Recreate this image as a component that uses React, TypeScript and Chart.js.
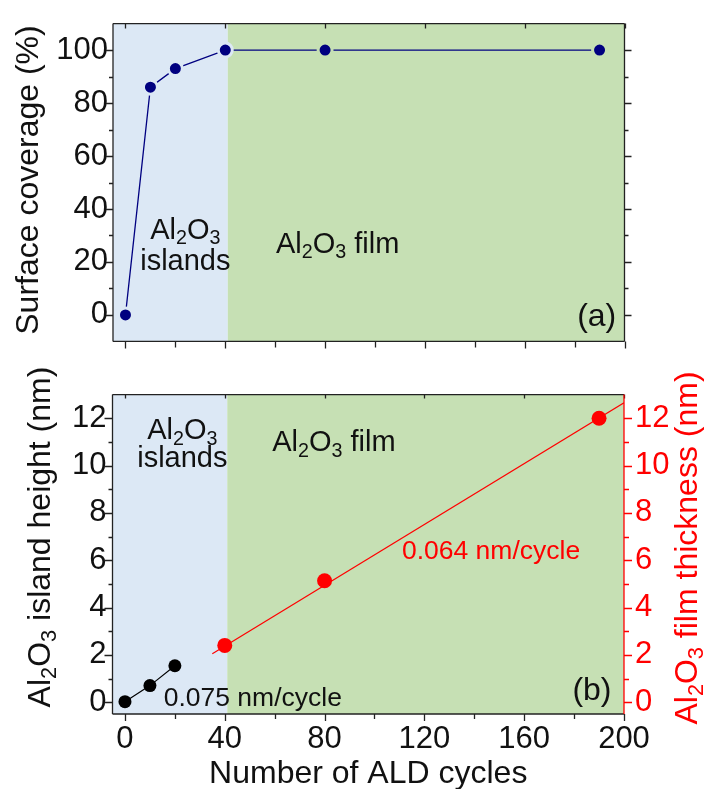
import React, { useEffect, useRef } from "react";
import { Chart, registerables } from "chart.js";

Chart.register(...registerables);

// ---------- data ----------
const coverageCycles = [0, 10, 20, 40, 80, 190];
const coverageValues = [0, 86, 93, 100, 100, 100];

const islandCycles = [0, 10, 20];
const islandHeights = [0.02, 0.7, 1.54];

const filmCycles = [40, 80, 190];
const filmThickness = [2.4, 5.13, 12.0];

const filmFitCycles = [35, 200];
const filmFitValues = [2.05, 12.65];

const xMajorTicks = [0, 40, 80, 120, 160, 200];
const xMinorTicks = [20, 60, 100, 140, 180];
const coverageMajorTicks = [0, 20, 40, 60, 80, 100];
const coverageMinorTicks = [10, 30, 50, 70, 90];
const heightMajorTicks = [0, 2, 4, 6, 8, 10, 12];
const heightMinorTicks = [1, 3, 5, 7, 9, 11];

const islandRegion = [-5, 41];
const filmRegion = [41, 200];

// ---------- styling ----------
const FAMILY = '"Liberation Sans", Arial, Helvetica, sans-serif';
const TICK_SIZE = 31;
const TITLE_SIZE = 32;
const NOTE_SIZE = 29;
const RATE_SIZE = 26.5;
const SUB = 0.68;
const BLUE_BG = "#dce8f5";
const GREEN_BG = "#c6e0b4";
const NAVY = "#000080";
const RED = "#ff0000";

type Seg = { t: string; sub?: boolean };
const AL2O3: Seg[] = [{ t: "Al" }, { t: "2", sub: true }, { t: "O" }, { t: "3", sub: true }];

function drawRich(
  ctx: CanvasRenderingContext2D,
  segs: Seg[],
  x: number,
  y: number,
  size: number,
  color: string,
  align: "left" | "center" | "right",
  rotate = false
) {
  ctx.save();
  ctx.fillStyle = color;
  ctx.textBaseline = "alphabetic";
  ctx.textAlign = "left";
  let w = 0;
  const widths: number[] = [];
  for (const s of segs) {
    ctx.font = `${s.sub ? size * SUB : size}px ${FAMILY}`;
    const m = ctx.measureText(s.t).width;
    widths.push(m);
    w += m;
  }
  if (rotate) {
    ctx.translate(x, y);
    ctx.rotate(-Math.PI / 2);
    x = 0;
    y = 0;
  }
  let cx = align === "center" ? x - w / 2 : align === "right" ? x - w : x;
  segs.forEach((s, i) => {
    ctx.font = `${s.sub ? size * SUB : size}px ${FAMILY}`;
    ctx.fillText(s.t, cx, s.sub ? y + size * 0.2 : y);
    cx += widths[i];
  });
  ctx.restore();
}

type TickSpec = {
  axis: string;
  side: "left" | "right" | "top" | "bottom";
  values: number[];
  len: number;
  color: string;
};

function framePlugin(specs: TickSpec[], borders: { side: string; color: string }[]) {
  return {
    id: "frame",
    afterDraw(chart: any) {
      const { ctx, chartArea: a } = chart;
      ctx.save();
      ctx.lineWidth = 1.3;
      for (const sp of specs) {
        const sc = chart.scales[sp.axis];
        ctx.strokeStyle = sp.color;
        ctx.beginPath();
        for (const v of sp.values) {
          const p = Math.round(sc.getPixelForValue(v)) + 0.5;
          if (sp.side === "left") {
            ctx.moveTo(a.left, p);
            ctx.lineTo(a.left - sp.len, p);
          } else if (sp.side === "right") {
            ctx.moveTo(a.right, p);
            ctx.lineTo(a.right + sp.len, p);
          } else if (sp.side === "bottom") {
            ctx.moveTo(p, a.bottom);
            ctx.lineTo(p, a.bottom + sp.len);
          } else {
            ctx.moveTo(p, a.top);
            ctx.lineTo(p, a.top - sp.len);
          }
        }
        ctx.stroke();
      }
      for (const b of borders) {
        ctx.strokeStyle = b.color;
        ctx.beginPath();
        if (b.side === "left") {
          ctx.moveTo(a.left, a.top);
          ctx.lineTo(a.left, a.bottom);
        } else if (b.side === "right") {
          ctx.moveTo(a.right, a.top);
          ctx.lineTo(a.right, a.bottom);
        } else if (b.side === "top") {
          ctx.moveTo(a.left, a.top);
          ctx.lineTo(a.right, a.top);
        } else {
          ctx.moveTo(a.left, a.bottom);
          ctx.lineTo(a.right, a.bottom);
        }
        ctx.stroke();
      }
      ctx.restore();
    },
  };
}

const bandsPlugin = {
  id: "bands",
  beforeDatasetsDraw(chart: any) {
    const { ctx, chartArea: a, scales } = chart;
    const x = scales.x;
    ctx.save();
    ctx.fillStyle = BLUE_BG;
    const x0 = x.getPixelForValue(islandRegion[0]);
    const x1 = x.getPixelForValue(islandRegion[1]);
    ctx.fillRect(x0, a.top, x1 - x0, a.bottom - a.top);
    ctx.fillStyle = GREEN_BG;
    const x2 = x.getPixelForValue(filmRegion[0]);
    const x3 = x.getPixelForValue(filmRegion[1]);
    ctx.fillRect(x2, a.top, x3 - x2, a.bottom - a.top);
    ctx.restore();
  },
};

const bandColorAt = (ctx: any) => {
  const raw = ctx.raw;
  return raw && raw.x < islandRegion[1] ? BLUE_BG : GREEN_BG;
};

const gridOff = { display: false, drawTicks: false };
const borderOff = { display: false };

export default function App() {
  const topRef = useRef<HTMLCanvasElement | null>(null);
  const botRef = useRef<HTMLCanvasElement | null>(null);

  useEffect(() => {
    if (!topRef.current || !botRef.current) return;

    const topText = {
      id: "topText",
      afterDraw(chart: any) {
        const { ctx, scales } = chart;
        const X = (v: number) => scales.x.getPixelForValue(v);
        const Y = (v: number) => scales.y.getPixelForValue(v);
        drawRich(ctx, AL2O3, X(24), Y(28.8), NOTE_SIZE, "#111", "center");
        drawRich(ctx, [{ t: "islands" }], X(24), Y(17.1), NOTE_SIZE, "#111", "center");
        drawRich(ctx, [...AL2O3, { t: " film" }], X(60.3), Y(23.5), NOTE_SIZE, "#111", "left");
        drawRich(ctx, [{ t: "(a)" }], X(196.7), Y(-4), TITLE_SIZE, "#111", "right");
        drawRich(ctx, [{ t: "Surface coverage (%)" }], 38, 180, TITLE_SIZE, "#111", "center", true);
      },
    };

    const top = new Chart(topRef.current, {
      type: "line",
      data: {
        datasets: [
          {
            data: coverageCycles.map((c, i) => ({ x: c, y: coverageValues[i] })),
            borderColor: NAVY,
            backgroundColor: NAVY,
            pointBackgroundColor: NAVY,
            pointBorderColor: bandColorAt,
            pointRadius: 7,
            pointBorderWidth: 3,
            borderWidth: 1.3,
          },
        ],
      },
      options: {
        animation: false,
        responsive: false,
        maintainAspectRatio: false,
        devicePixelRatio: 1,
        layout: { padding: { top: 14, right: 89.5, left: 0, bottom: 0 } },
        plugins: { legend: { display: false }, tooltip: { enabled: false } },
        scales: {
          x: {
            type: "linear",
            min: -5,
            max: 200,
            ticks: { display: false },
            grid: gridOff,
            border: borderOff,
            afterFit: (s: any) => {
              s.height = 11;
            },
          },
          y: {
            type: "linear",
            min: -10,
            max: 110,
            afterBuildTicks: (s: any) => {
              s.ticks = coverageMajorTicks.map((v) => ({ value: v }));
            },
            ticks: {
              autoSkip: false,
              padding: 5,
              color: "#111",
              font: { family: FAMILY, size: TICK_SIZE },
            },
            grid: gridOff,
            border: borderOff,
            afterFit: (s: any) => {
              s.width = 113;
            },
          },
        },
      } as any,
      plugins: [
        bandsPlugin,
        framePlugin(
          [
            { axis: "y", side: "left", values: coverageMajorTicks, len: 7, color: "#222" },
            { axis: "y", side: "left", values: coverageMinorTicks, len: 4, color: "#222" },
            { axis: "y", side: "right", values: coverageMajorTicks, len: 7, color: "#222" },
            { axis: "y", side: "right", values: coverageMinorTicks, len: 4, color: "#222" },
            { axis: "x", side: "bottom", values: xMajorTicks, len: 7, color: "#222" },
            { axis: "x", side: "bottom", values: xMinorTicks, len: 6, color: "#222" },
            { axis: "x", side: "top", values: xMajorTicks, len: -5, color: "#222" },
          ],
          [
            { side: "left", color: "#222" },
            { side: "right", color: "#222" },
            { side: "top", color: "#222" },
            { side: "bottom", color: "#222" },
          ]
        ),
        topText,
      ],
    });

    const botText = {
      id: "botText",
      afterDraw(chart: any) {
        const { ctx, scales } = chart;
        const X = (v: number) => scales.x.getPixelForValue(v);
        const Y = (v: number) => scales.y.getPixelForValue(v);
        drawRich(ctx, AL2O3, X(23), Y(11.13), NOTE_SIZE, "#111", "center");
        drawRich(ctx, [{ t: "islands" }], X(23), Y(9.94), NOTE_SIZE, "#111", "center");
        drawRich(ctx, [...AL2O3, { t: " film" }], X(59), Y(10.6), NOTE_SIZE, "#111", "left");
        drawRich(ctx, [{ t: "0.064 nm/cycle" }], X(146.7), Y(6.07), RATE_SIZE, RED, "center");
        drawRich(ctx, [{ t: "0.075 nm/cycle" }], X(15.5), Y(-0.15), RATE_SIZE, "#111", "left");
        drawRich(ctx, [{ t: "(b)" }], X(195), Y(0.1), TITLE_SIZE, "#111", "right");
        drawRich(ctx, [...AL2O3, { t: " island height (nm)" }], 50, 537 - 365, TITLE_SIZE, "#111", "center", true);
        drawRich(ctx, [...AL2O3, { t: " film thickness (nm)" }], 697, 548 - 365, TITLE_SIZE, RED, "center", true);
        drawRich(ctx, [{ t: "Number of ALD cycles" }], (chart.chartArea.left + chart.chartArea.right) / 2, 783 - 365, TITLE_SIZE, "#111", "center");
      },
    };

    const bot = new Chart(botRef.current, {
      type: "line",
      data: {
        datasets: [
          {
            data: islandCycles.map((c, i) => ({ x: c, y: islandHeights[i] })),
            yAxisID: "y",
            borderColor: "#000",
            backgroundColor: "#000",
            pointBackgroundColor: "#000",
            pointBorderColor: "#000",
            pointRadius: 6.5,
            pointBorderWidth: 0,
            borderWidth: 1.2,
          },
          {
            data: filmFitCycles.map((c, i) => ({ x: c, y: filmFitValues[i] })),
            yAxisID: "y2",
            borderColor: RED,
            pointRadius: 0,
            borderWidth: 1.2,
          },
          {
            data: filmCycles.map((c, i) => ({ x: c, y: filmThickness[i] })),
            yAxisID: "y2",
            showLine: false,
            borderColor: RED,
            backgroundColor: RED,
            pointBackgroundColor: RED,
            pointBorderColor: RED,
            pointRadius: 7.5,
            pointBorderWidth: 0,
          },
        ],
      },
      options: {
        animation: false,
        responsive: false,
        maintainAspectRatio: false,
        devicePixelRatio: 1,
        layout: { padding: { top: 10, right: 0, left: 0, bottom: 0 } },
        plugins: { legend: { display: false }, tooltip: { enabled: false } },
        scales: {
          x: {
            type: "linear",
            min: -5,
            max: 200,
            afterBuildTicks: (s: any) => {
              s.ticks = xMajorTicks.map((v) => ({ value: v }));
            },
            ticks: {
              autoSkip: false,
              maxRotation: 0,
              padding: 7,
              color: "#111",
              font: { family: FAMILY, size: TICK_SIZE },
            },
            grid: gridOff,
            border: borderOff,
            afterFit: (s: any) => {
              s.height = 75;
            },
          },
          y: {
            type: "linear",
            position: "left",
            min: -0.5,
            max: 13,
            afterBuildTicks: (s: any) => {
              s.ticks = heightMajorTicks.map((v) => ({ value: v }));
            },
            ticks: {
              autoSkip: false,
              padding: 6,
              color: "#111",
              font: { family: FAMILY, size: TICK_SIZE },
            },
            grid: gridOff,
            border: borderOff,
            afterFit: (s: any) => {
              s.width = 112.5;
            },
          },
          y2: {
            type: "linear",
            position: "right",
            min: -0.5,
            max: 13,
            afterBuildTicks: (s: any) => {
              s.ticks = heightMajorTicks.map((v) => ({ value: v }));
            },
            ticks: {
              autoSkip: false,
              padding: 11,
              color: RED,
              font: { family: FAMILY, size: TICK_SIZE },
            },
            grid: gridOff,
            border: borderOff,
            afterFit: (s: any) => {
              s.width = 90;
            },
          },
        },
      } as any,
      plugins: [
        bandsPlugin,
        framePlugin(
          [
            { axis: "y", side: "left", values: heightMajorTicks, len: 8, color: "#222" },
            { axis: "y", side: "left", values: heightMinorTicks, len: 4, color: "#222" },
            { axis: "y2", side: "right", values: heightMajorTicks, len: 8, color: RED },
            { axis: "y2", side: "right", values: heightMinorTicks, len: 5, color: RED },
            { axis: "x", side: "bottom", values: xMajorTicks, len: 7, color: "#222" },
            { axis: "x", side: "bottom", values: xMinorTicks, len: 5, color: "#222" },
            { axis: "x", side: "top", values: xMajorTicks, len: -4, color: "#222" },
          ],
          [
            { side: "left", color: "#222" },
            { side: "top", color: "#222" },
            { side: "bottom", color: "#222" },
            { side: "right", color: RED },
          ]
        ),
        botText,
      ],
    });

    return () => {
      top.destroy();
      bot.destroy();
    };
  }, []);

  return (
    <div style={{ position: "absolute", left: 0, top: 0, width: 714, height: 789, background: "#fff" }}>
      <canvas
        ref={topRef}
        width={714}
        height={365}
        style={{ position: "absolute", left: 0, top: 0, width: 714, height: 365, display: "block" }}
      />
      <canvas
        ref={botRef}
        width={714}
        height={424}
        style={{ position: "absolute", left: 0, top: 365, width: 714, height: 424, display: "block" }}
      />
    </div>
  );
}
